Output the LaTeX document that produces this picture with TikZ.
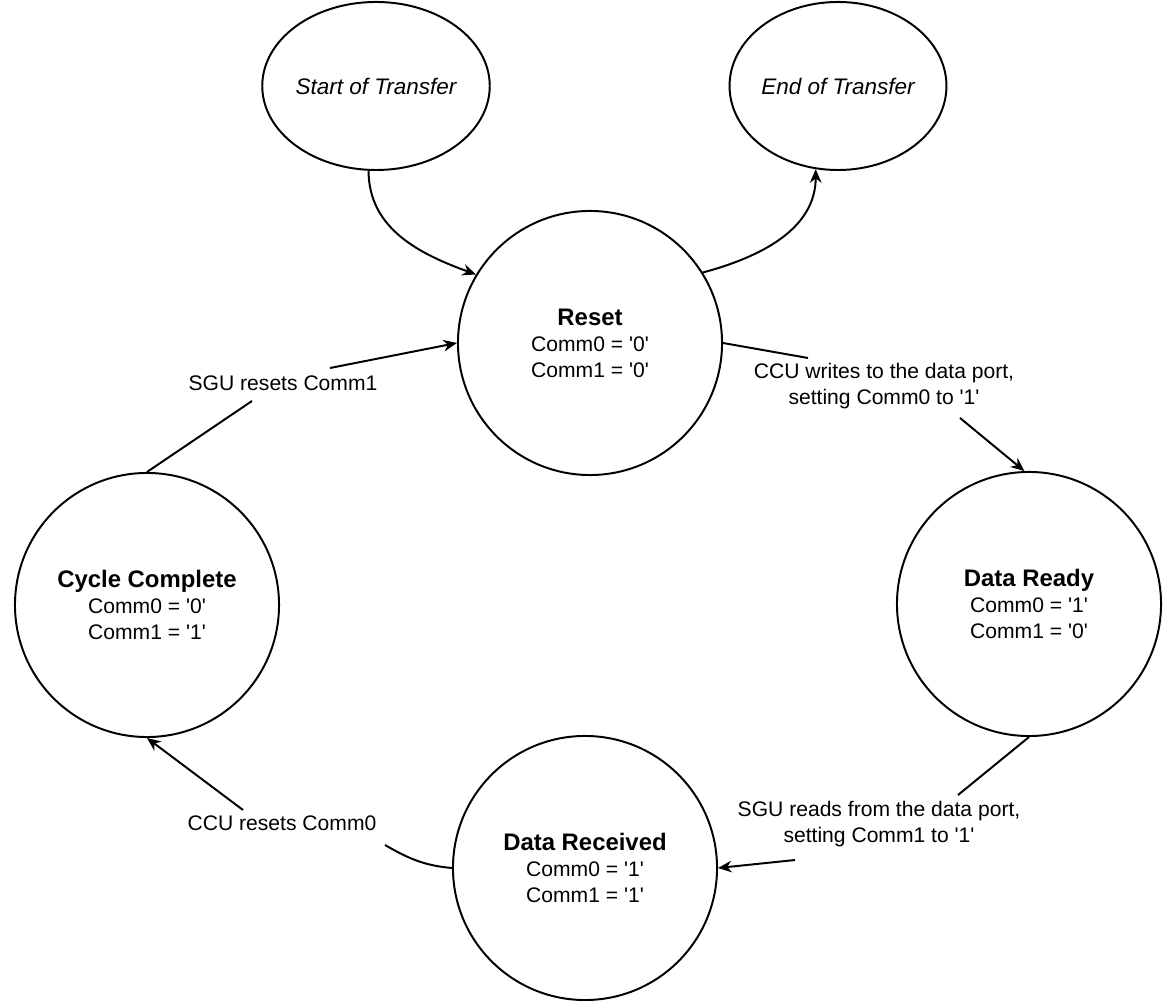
\documentclass[tikz,border=0pt]{standalone}
\usepackage{fontspec}
\setmainfont{Liberation Sans}
\usetikzlibrary{arrows.meta,shapes.geometric}

\newcommand{\bitval}[1]{\textquotesingle#1\textquotesingle}
\newcommand{\statetitle}[1]{{\fontsize{17}{18.5}\selectfont\bfseries #1}}

\begin{document}
\begin{tikzpicture}[
    x=0.025cm, y=0.025cm,
    state/.style={circle, draw, line width=1.4pt, minimum size=6.6cm, align=center,
                  inner sep=0pt, font=\fontsize{15}{18.5}\selectfont},
    terminal/.style={ellipse, draw, line width=1.4pt, minimum width=4.6cm,
                     minimum height=4.2cm, inner sep=0pt, font=\fontsize{16}{18}\selectfont\itshape},
    trans/.style={align=center, inner sep=0pt, font=\fontsize{15}{18.5}\selectfont},
    arr/.style={-{Stealth[length=3.4mm, width=2.9mm]}, line width=1.4pt},
]
    \useasboundingbox (0,0) rectangle (1164,1000);

    \node[terminal] (start) at (376,914) {Start of Transfer};
    \node[terminal] (stop) at (838,914) {End of Transfer};

    \node[state] (reset) at (590,657) {\statetitle{Reset}\\Comm0 = \bitval{0}\\Comm1 = \bitval{0}};
    \node[state] (ready) at (1029,396) {\statetitle{Data Ready}\\Comm0 = \bitval{1}\\Comm1 = \bitval{0}};
    \node[state] (recv) at (585,132) {\statetitle{Data Received}\\Comm0 = \bitval{1}\\Comm1 = \bitval{1}};
    \node[state] (cycle) at (147,395) {\statetitle{Cycle Complete}\\Comm0 = \bitval{0}\\Comm1 = \bitval{1}};

    % transition labels
    \node[trans] (lWrite) at (884,614) {CCU writes to the data port,\\setting Comm0 to \bitval{1}};
    \node[trans] (lRead) at (879,176) {SGU reads from the data port,\\setting Comm1 to \bitval{1}};
    \node[trans] (lClear0) at (282,177) {CCU resets Comm0};
    \node[trans] (lClear1) at (283,617) {SGU resets Comm1};

    % ends of the broken connectors
    \coordinate (wA) at (808,642);
    \coordinate (wB) at (960,582);
    \coordinate (rA) at (958,205);
    \coordinate (rB) at (795,140);
    \coordinate (cA) at (385,155);
    \coordinate (cB) at (243,190);
    \coordinate (sA) at (252,599);
    \coordinate (sB) at (330,632);

    \draw[arr] (start.265) to[out=-90, in=160] (reset.149);
    \draw[arr] (reset.32) to[out=15, in=-90] (stop.255);
    \draw[arr] (reset.east) -- (wA) (wB) -- (ready.92);
    \draw[arr] (ready.south) -- (rA) (rB) -- (recv.east);
    \draw[arr] (recv.west) to[out=175, in=-30] (cA) (cB) -- (cycle.south);
    \draw[arr] (cycle.north) -- (sA) (sB) -- (reset.west);
\end{tikzpicture}
\end{document}
